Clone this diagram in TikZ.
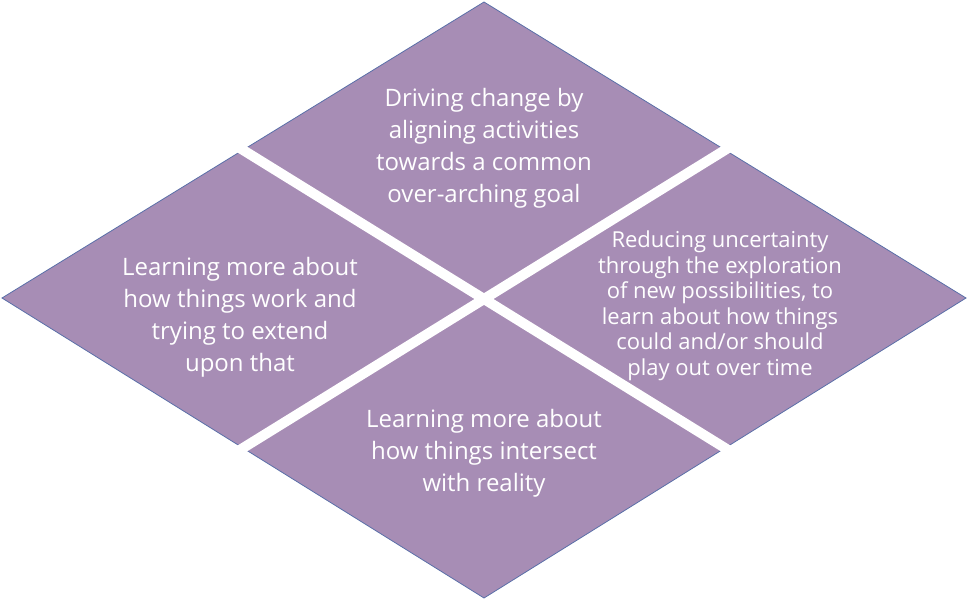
\documentclass[tikz,border=0pt]{standalone}
\usepackage{fontspec}
\usetikzlibrary{calc}
\setmainfont{Open Sans}
\begin{document}
\begin{tikzpicture}[x=1pt,y=-1pt,
 piece/.style={fill=pfill,draw=pedge,line width=0.8pt},
 gap/.style={draw=white,line width=10pt},
 lbl/.style={text=white,align=center,font=\fontsize{24}{32}\selectfont},
 lbls/.style={text=white,align=center,font=\fontsize{22}{25.5}\selectfont}]
\definecolor{pfill}{HTML}{A78DB5}
\definecolor{pedge}{HTML}{5A6FA8}
\useasboundingbox (0,0) rectangle (968,600);
\coordinate (T) at (484,2); \coordinate (L) at (2,298);
\coordinate (R) at (966,298); \coordinate (B) at (484,598);
\draw[piece] (T) -- (R) -- (B) -- (L) -- cycle;
\coordinate (TL) at ($(T)!0.5!(L)$);
\coordinate (TR) at ($(T)!0.5!(R)$);
\coordinate (BL) at ($(B)!0.5!(L)$);
\coordinate (BR) at ($(B)!0.5!(R)$);
\draw[gap] ($(TL)!-0.01!(BR)$) -- ($(BR)!-0.01!(TL)$);
\draw[gap] ($(TR)!-0.01!(BL)$) -- ($(BL)!-0.01!(TR)$);
\node[lbl] (t) at (484,148) {Driving change by\\aligning activities\\towards a common\\over-arching goal};
\node[lbl] (l) at (240,317) {Learning more about\\how things work and\\trying to extend\\upon that};
\node[lbls] (r) at (720,306) {Reducing uncertainty\\through the exploration\\of new possibilities, to\\learn about how things\\could and/or should\\play out over time};
\node[lbl] (b) at (484,453) {Learning more about\\how things intersect\\with reality};
\end{tikzpicture}
\end{document}
